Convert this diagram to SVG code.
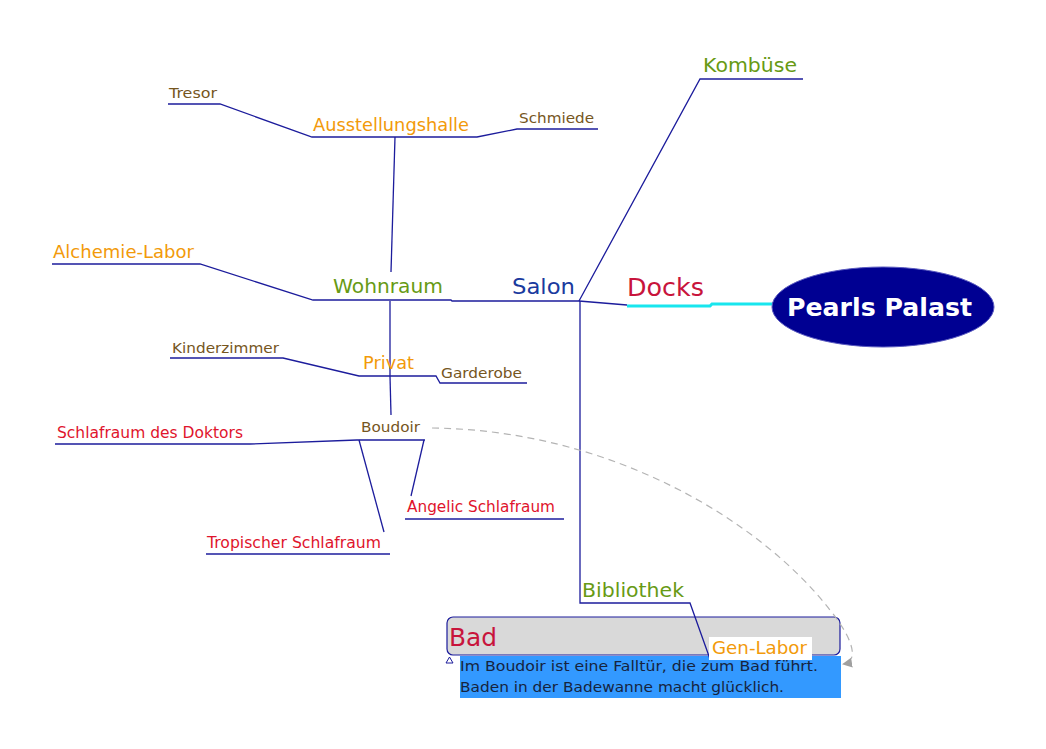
<svg xmlns="http://www.w3.org/2000/svg" width="1046" height="749" viewBox="0 0 1046 749">
<style>
text{font-family:"DejaVu Sans","Liberation Sans",sans-serif}
.ln{fill:none;stroke:#1c1c9c;stroke-width:1.3}
.br{fill:#76561e;font-size:14px}
.or{fill:#f29a0a;font-size:17px}
.gr{fill:#679a14;font-size:19px}
.rd{fill:#e0142c;font-size:15px}
.nt{fill:#16243e;font-size:14.5px}
</style>
<defs>
<marker id="ah" markerWidth="10" markerHeight="10" refX="8" refY="5" orient="auto" markerUnits="userSpaceOnUse">
<path d="M0,0 L10,5 L0,10 z" fill="#a0a0a0"/>
</marker>
</defs>
<rect width="1046" height="749" fill="#fff"/>
<g id="n-bad">
<rect x="447" y="617" width="393" height="38" rx="6" fill="#d9d9d9" stroke="#1c1c9c" stroke-width="1.2"/>
<text x="449" y="646" fill="#c8143c" font-size="25" textLength="48" lengthAdjust="spacingAndGlyphs">Bad</text>
<path d="M446,663 L449.5,657 L453,663 z" fill="#fff" stroke="#1c1c9c" stroke-width="1"/>
<rect x="460" y="656" width="381" height="42" fill="#3399ff"/>
<text x="460" y="671" class="nt" textLength="358" lengthAdjust="spacingAndGlyphs">Im Boudoir ist eine Falltür, die zum Bad führt.</text>
<text x="460" y="692" class="nt" textLength="324" lengthAdjust="spacingAndGlyphs">Baden in der Badewanne macht glücklich.</text>
</g>
<g id="connectors">
<path class="ln" d="M168,104 H220 L312,137 H477 L517,129 H598"/>
<path class="ln" d="M395,137 L391,272"/>
<path class="ln" d="M52,264 H200 L313,300 H451 L452,301 H579"/>
<path class="ln" d="M579,301 L700,79 H803"/>
<path class="ln" d="M579,301 L627,305"/>
<path d="M627,306 H710 L712,304 H775" fill="none" stroke="#18e6ee" stroke-width="3"/>
<path class="ln" d="M580,301 V603 H690 L710,659"/>
<path class="ln" d="M390,301 V376"/>
<path class="ln" d="M170,358 H283 L359,376 H436 L440,383 H527"/>
<path class="ln" d="M390,376 L391,415"/>
<path class="ln" d="M55,444 H250 L357,440 H425"/>
<path class="ln" d="M359,440 L384,532"/>
<path class="ln" d="M206,554 H390"/>
<path class="ln" d="M424,440 L411,496"/>
<path class="ln" d="M405,519 H564"/>
<path d="M432,428 C610,430 760,520 830,610 C858,645 856,662 844,664" fill="none" stroke="#b4b4b4" stroke-width="1.2" stroke-dasharray="7,5" marker-end="url(#ah)"/>
</g>
<g id="n-palast">
<ellipse cx="883" cy="307" rx="111" ry="40" fill="#000092" stroke="#5a5ac0" stroke-width="1"/>
<text x="787" y="316" fill="#fff" font-size="25" font-weight="bold" textLength="185" lengthAdjust="spacingAndGlyphs">Pearls Palast</text>
</g>
<g id="n-docks"><text x="627" y="296" fill="#c8143c" font-size="25" textLength="77" lengthAdjust="spacingAndGlyphs">Docks</text></g>
<g id="n-salon"><text x="512" y="294" fill="#1a3a9e" font-size="22" textLength="63" lengthAdjust="spacingAndGlyphs">Salon</text></g>
<g id="n-kombuese"><text x="703" y="72" class="gr" textLength="94" lengthAdjust="spacingAndGlyphs">Kombüse</text></g>
<g id="n-wohnraum"><text x="333" y="293" class="gr" textLength="110" lengthAdjust="spacingAndGlyphs">Wohnraum</text></g>
<g id="n-ausstellung"><text x="313" y="131" class="or" textLength="156" lengthAdjust="spacingAndGlyphs">Ausstellungshalle</text></g>
<g id="n-tresor"><text x="169" y="98" class="br" textLength="48" lengthAdjust="spacingAndGlyphs">Tresor</text></g>
<g id="n-schmiede"><text x="519" y="123" class="br" textLength="75" lengthAdjust="spacingAndGlyphs">Schmiede</text></g>
<g id="n-alchemie"><text x="53" y="258" class="or" textLength="141" lengthAdjust="spacingAndGlyphs">Alchemie-Labor</text></g>
<g id="n-privat"><text x="363" y="369" class="or" textLength="51" lengthAdjust="spacingAndGlyphs">Privat</text></g>
<g id="n-kinder"><text x="172" y="353" class="br" textLength="107" lengthAdjust="spacingAndGlyphs">Kinderzimmer</text></g>
<g id="n-garderobe"><text x="441" y="378" class="br" textLength="81" lengthAdjust="spacingAndGlyphs">Garderobe</text></g>
<g id="n-boudoir"><text x="361" y="432" class="br" textLength="59" lengthAdjust="spacingAndGlyphs">Boudoir</text></g>
<g id="n-doktor"><text x="57" y="438" class="rd" textLength="186" lengthAdjust="spacingAndGlyphs">Schlafraum des Doktors</text></g>
<g id="n-tropisch"><text x="207" y="548" class="rd" textLength="174" lengthAdjust="spacingAndGlyphs">Tropischer Schlafraum</text></g>
<g id="n-angelic"><text x="407" y="512" class="rd" textLength="148" lengthAdjust="spacingAndGlyphs">Angelic Schlafraum</text></g>
<g id="n-bibliothek"><text x="582" y="597" class="gr" textLength="102" lengthAdjust="spacingAndGlyphs">Bibliothek</text></g>
<g id="n-genlabor">
<rect x="709" y="637" width="103" height="23" fill="#fff"/>
<text x="712" y="654" class="or" textLength="95" lengthAdjust="spacingAndGlyphs">Gen-Labor</text>
</g>
</svg>
